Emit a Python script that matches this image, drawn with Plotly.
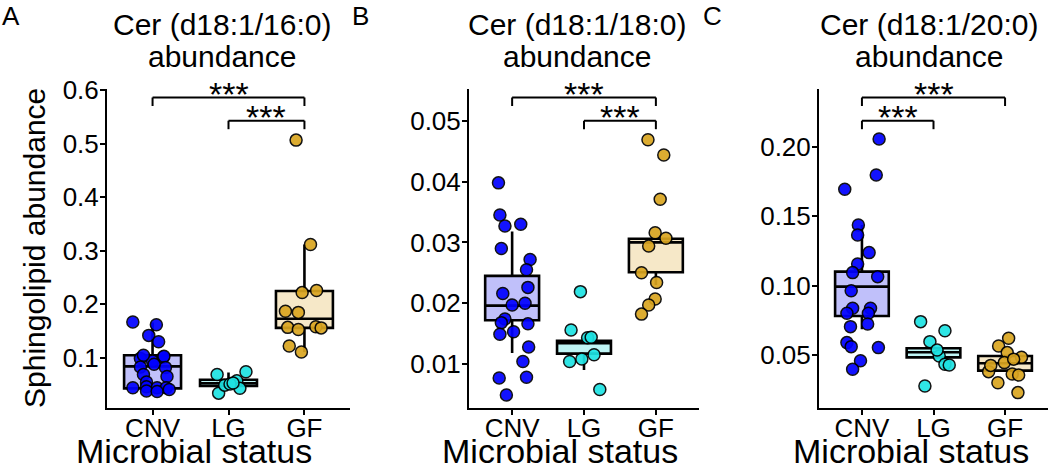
import plotly.graph_objects as go

FONT = "Liberation Sans, Arial, Helvetica, sans-serif"
W, H = 1050, 472

GROUPS = ["CNV", "LG", "GF"]
POINT_COLORS = {"CNV": "#0000FF", "LG": "#1EE3E3", "GF": "#DAA520"}
BOX_FILLS = {"CNV": "#C0C0FA", "LG": "#BFF5F5", "GF": "#F6E8C8"}

TITLES = ["Cer (d18:1/16:0)", "Cer (d18:1/18:0)", "Cer (d18:1/20:0)"]
LETTERS = ["A", "B", "C"]

# jittered points: values and horizontal jitter (category units)
A_CNV = [0.167, 0.162, 0.142, 0.130, 0.099, 0.094, 0.101, 0.105, 0.103, 0.083, 0.082,
         0.069, 0.065, 0.055, 0.044, 0.046, 0.044, 0.044, 0.038, 0.037, 0.041, 0.088]
A_CNV_JIT = [-0.26, 0.05, -0.05, 0.08, -0.16, 0.00, 0.14, -0.12, 0.15, -0.16, 0.17,
             -0.12, 0.19, -0.08, -0.26, -0.08, 0.06, 0.18, -0.08, 0.06, 0.22, 0.02]
A_LG = [0.069, 0.074, 0.057, 0.043, 0.034, 0.049, 0.051, 0.053]
A_LG_JIT = [-0.15, 0.23, 0.11, 0.15, -0.13, -0.05, 0.02, 0.06]
A_GF = [0.507, 0.312, 0.222, 0.226, 0.187, 0.185, 0.157, 0.153, 0.158, 0.156, 0.122, 0.111]
A_GF_JIT = [-0.11, 0.08, -0.03, 0.16, -0.25, -0.08, -0.22, -0.08, 0.15, 0.22, -0.20, -0.04]

B_CNV = [0.0398, 0.0345, 0.0327, 0.0330, 0.0290, 0.0272, 0.0255, 0.0226, 0.0216, 0.0197, 0.0200,
         0.0174, 0.0168, 0.0166, 0.0149, 0.0153, 0.0128, 0.0104, 0.0077, 0.0078, 0.0049]
B_CNV_JIT = [-0.19, -0.17, -0.10, 0.12, -0.15, 0.25, 0.20, 0.22, -0.13, 0.00, 0.18,
             -0.10, -0.15, 0.22, -0.17, 0.02, 0.23, 0.15, -0.18, 0.20, -0.08]
B_LG = [0.0219, 0.0156, 0.0143, 0.0144, 0.0115, 0.0104, 0.0108, 0.0058]
B_LG_JIT = [-0.05, -0.18, 0.05, 0.10, 0.14, -0.20, -0.03, 0.22]
B_GF = [0.0469, 0.0444, 0.0371, 0.0316, 0.0307, 0.0294, 0.0250, 0.0234, 0.0207, 0.0197, 0.0182]
B_GF_JIT = [-0.11, 0.11, 0.06, -0.01, 0.14, -0.10, -0.20, 0.01, -0.01, -0.10, -0.20]

C_CNV = [0.2055, 0.1796, 0.1693, 0.1436, 0.1364, 0.1237, 0.1155, 0.1093, 0.1064, 0.0963, 0.0836,
         0.0836, 0.0800, 0.0800, 0.0723, 0.0704, 0.0589, 0.0560, 0.0553, 0.0459, 0.0397]
C_CNV_JIT = [0.24, 0.20, -0.24, -0.05, -0.06, 0.10, -0.06, -0.13, 0.22, -0.15, -0.13,
             0.12, -0.21, 0.09, 0.08, -0.16, -0.21, -0.15, 0.23, -0.02, -0.13]
C_LG = [0.0740, 0.0675, 0.0596, 0.0493, 0.0433, 0.0428, 0.0277, 0.0536]
C_LG_JIT = [-0.18, 0.16, -0.05, 0.08, 0.16, 0.22, -0.12, 0.05]
C_GF = [0.0620, 0.0565, 0.0517, 0.0483, 0.0445, 0.0380, 0.0363, 0.0356, 0.0300, 0.0229, 0.0425, 0.0470]
C_GF_JIT = [0.05, -0.09, 0.03, 0.23, -0.01, -0.23, 0.10, 0.19, -0.10, 0.18, -0.20, 0.12]

# box statistics per group: q1, median, q3, lower whisker, upper whisker
A_BOX = {"CNV": [0.043, 0.084, 0.105, 0.035, 0.166],
         "LG": [0.0475, 0.0525, 0.059, 0.043, 0.0727],
         "GF": [0.156, 0.173, 0.225, 0.111, 0.312]}
B_BOX = {"CNV": [0.0172, 0.0196, 0.0245, 0.0118, 0.0318],
         "LG": [0.0117, 0.0134, 0.0138, 0.0090, 0.0143],
         "GF": [0.0251, 0.0300, 0.0306, 0.0230, 0.0306]}
C_BOX = {"CNV": [0.0781, 0.0992, 0.110, 0.0685, 0.1436],
         "LG": [0.0483, 0.0520, 0.0548, 0.0483, 0.0548],
         "GF": [0.0387, 0.0440, 0.0493, 0.0387, 0.0493]}

# significance brackets (group index pairs), top one first
A_PAIRS = [(0, 2), (1, 2)]
B_PAIRS = [(0, 2), (1, 2)]
C_PAIRS = [(0, 2), (0, 1)]
SIG_LABEL = "***"

Y_TICKS = [[0.1, 0.2, 0.3, 0.4, 0.5, 0.6],
           [0.01, 0.02, 0.03, 0.04, 0.05],
           [0.05, 0.10, 0.15, 0.20]]
Y_RANGES = [[0.0057, 0.602], [0.0027, 0.0552], [0.0116, 0.2413]]
Y_FORMATS = [".1f", ".2f", ".2f"]

PANELS = [
    ({"CNV": A_CNV, "LG": A_LG, "GF": A_GF}, {"CNV": A_CNV_JIT, "LG": A_LG_JIT, "GF": A_GF_JIT}, A_BOX, A_PAIRS),
    ({"CNV": B_CNV, "LG": B_LG, "GF": B_GF}, {"CNV": B_CNV_JIT, "LG": B_LG_JIT, "GF": B_GF_JIT}, B_BOX, B_PAIRS),
    ({"CNV": C_CNV, "LG": C_LG, "GF": C_GF}, {"CNV": C_CNV_JIT, "LG": C_LG_JIT, "GF": C_GF_JIT}, C_BOX, C_PAIRS),
]

# panel plot areas in pixels (left, right); all share top/bottom
X_PIX = [(107, 350), (469, 699), (819, 1048)]
TOP_PIX, BOTTOM_PIX = 89.3, 408.3
TITLE_X = [222, 577, 929]
XTITLE_X = [194, 560, 911]
LETTER_X = [0, 350, 701]


def px(x):
    return x / W


def py(y):
    return 1 - y / H


fig = go.Figure()
layout = dict(
    template="none",
    width=W, height=H,
    margin=dict(l=0, r=0, t=0, b=0, pad=0),
    paper_bgcolor="white", plot_bgcolor="white",
    showlegend=False,
    font=dict(family=FONT, color="black"),
)
annotations = []
shapes = []

for i, (values, jitter, box, pairs) in enumerate(PANELS):
    n = "" if i == 0 else str(i + 1)
    xa, ya = "x" + n, "y" + n
    left, right = X_PIX[i]

    axis_style = dict(
        showline=True, linecolor="black", linewidth=2, automargin=False,
        ticks="outside", ticklen=5, tickwidth=2, tickcolor="black",
        showgrid=False, zeroline=False,
        tickfont=dict(size=26, color="black"),
    )
    layout["xaxis" + n] = dict(
        domain=[px(left), px(right)], anchor=ya, range=[-0.6, 2.6],
        tickvals=[0, 1, 2], ticktext=GROUPS, ticklabelstandoff=-10, **axis_style,
    )
    layout["yaxis" + n] = dict(
        domain=[py(BOTTOM_PIX), py(TOP_PIX)], anchor=xa, range=Y_RANGES[i],
        tickvals=Y_TICKS[i], tickformat=Y_FORMATS[i], ticklabelstandoff=-4, **axis_style,
    )

    for g, name in enumerate(GROUPS):
        q1, med, q3, lo, hi = box[name]
        fig.add_trace(go.Box(
            x=[g], q1=[q1], median=[med], q3=[q3], lowerfence=[lo], upperfence=[hi],
            width=0.75, whiskerwidth=0, boxpoints=False,
            fillcolor=BOX_FILLS[name], line=dict(color="black", width=2.6),
            xaxis=xa, yaxis=ya,
        ))
    for g, name in enumerate(GROUPS):
        fig.add_trace(go.Scatter(
            x=[g + j for j in jitter[name]], y=values[name], mode="markers",
            marker=dict(size=12, color=POINT_COLORS[name], opacity=0.92,
                        line=dict(color="black", width=1.5)),
            xaxis=xa, yaxis=ya, cliponaxis=False,
        ))

    # brackets
    for k, (a, b) in enumerate(pairs):
        ytop = py(97.5 + 23.2 * k)
        ybot = py(106 + 23.2 * k)
        for path in ([a, ytop, b, ytop], [a, ybot, a, ytop], [b, ybot, b, ytop]):
            shapes.append(dict(type="line", xref=xa, yref="paper",
                               x0=path[0], y0=path[1], x1=path[2], y1=path[3],
                               line=dict(color="black", width=2)))
        annotations.append(dict(text=SIG_LABEL, xref=xa, yref="paper", x=(a + b) / 2, y=ytop,
                                xanchor="center", yanchor="middle", yshift=4, showarrow=False,
                                font=dict(size=34, color="black")))

    annotations.append(dict(text=TITLES[i], xref="paper", yref="paper", x=px(TITLE_X[i]), y=py(24.5),
                            xanchor="center", yanchor="middle", showarrow=False, font=dict(size=30)))
    annotations.append(dict(text="abundance", xref="paper", yref="paper", x=px(TITLE_X[i]), y=py(56),
                            xanchor="center", yanchor="middle", showarrow=False, font=dict(size=30)))
    annotations.append(dict(text="Microbial status", xref="paper", yref="paper",
                            x=px(XTITLE_X[i]), y=py(451),
                            xanchor="center", yanchor="middle", showarrow=False, font=dict(size=34)))
    annotations.append(dict(text=LETTERS[i], xref="paper", yref="paper",
                            x=px(LETTER_X[i]), y=py(16), xanchor="left",
                            yanchor="middle", showarrow=False, font=dict(size=26)))

annotations.append(dict(text="Sphingolipid abundance", xref="paper", yref="paper",
                        x=px(34), y=py(248), textangle=-90, xanchor="center", yanchor="middle",
                        showarrow=False, font=dict(size=30)))

layout["annotations"] = annotations
layout["shapes"] = shapes
fig.update_layout(**layout)
# page body margin would push the 1050x472 figure off the window
fig.write_html("out.html", config={"displayModeBar": False},
               post_script="document.body.style.margin='0';")
